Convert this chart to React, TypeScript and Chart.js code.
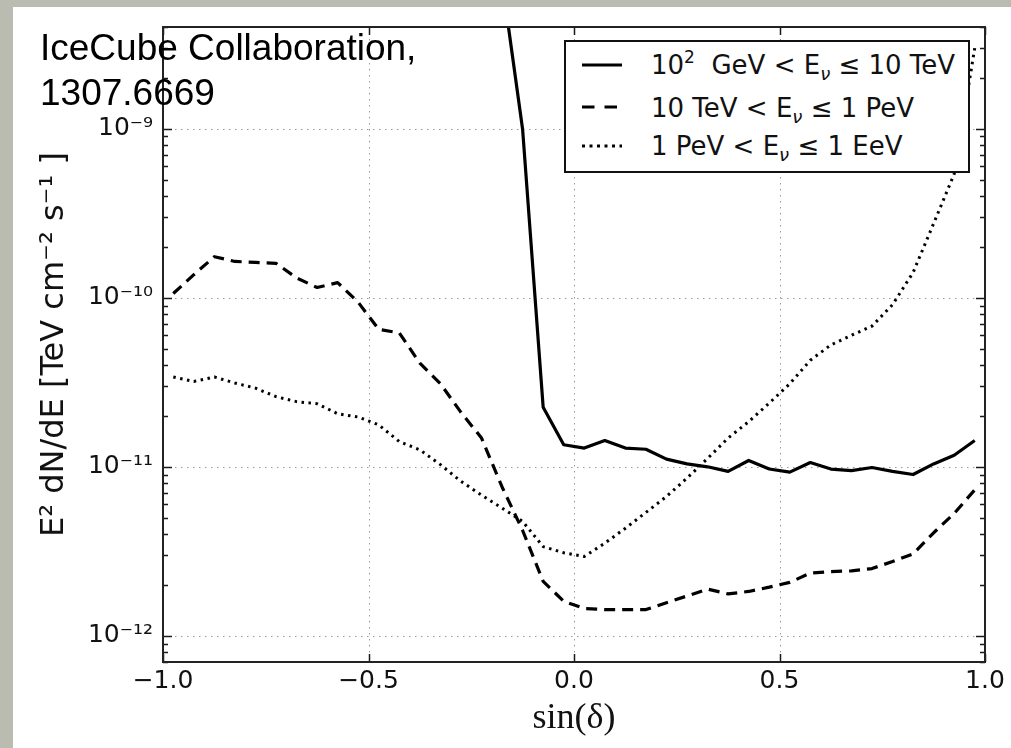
import React, { useEffect, useRef } from 'react';
import { Chart, registerables } from 'chart.js';

Chart.register(...registerables);

// sin(declination) bin centres
const SIN_DEC = [
  -0.975, -0.925, -0.875, -0.825, -0.775, -0.725, -0.675, -0.625, -0.575, -0.525,
  -0.475, -0.425, -0.375, -0.325, -0.275, -0.225, -0.175, -0.125, -0.075, -0.025,
  0.025, 0.075, 0.125, 0.175, 0.225, 0.275, 0.325, 0.375, 0.425, 0.475,
  0.525, 0.575, 0.625, 0.675, 0.725, 0.775, 0.825, 0.875, 0.925, 0.975,
];

// 10^2 GeV < E <= 10 TeV (solid)
const FLUX_LOW: (number | null)[] = [
  null, null, null, null, null, null, null, null, null, null,
  null, null, null, null, null, null, 7.5e-9, 9.9e-10, 2.25e-11, 1.35e-11,
  1.29e-11, 1.43e-11, 1.29e-11, 1.27e-11, 1.11e-11, 1.04e-11, 1.0e-11, 9.4e-12, 1.09e-11, 9.7e-12,
  9.3e-12, 1.06e-11, 9.7e-12, 9.5e-12, 9.9e-12, 9.4e-12, 9.0e-12, 1.04e-11, 1.17e-11, 1.43e-11,
];

// 10 TeV < E <= 1 PeV (dashed)
const FLUX_MID = [
  1.06e-10, 1.37e-10, 1.75e-10, 1.64e-10, 1.62e-10, 1.6e-10, 1.31e-10, 1.15e-10, 1.23e-10, 9.4e-11,
  6.5e-11, 6.2e-11, 4.1e-11, 3.1e-11, 2.1e-11, 1.48e-11, 7.6e-12, 4.2e-12, 2.1e-12, 1.6e-12,
  1.45e-12, 1.43e-12, 1.43e-12, 1.43e-12, 1.57e-12, 1.72e-12, 1.89e-12, 1.77e-12, 1.83e-12, 1.94e-12,
  2.07e-12, 2.35e-12, 2.4e-12, 2.42e-12, 2.5e-12, 2.75e-12, 3.05e-12, 4.07e-12, 5.3e-12, 7.3e-12,
];

// 1 PeV < E <= 1 EeV (dotted)
const FLUX_HIGH = [
  3.4e-11, 3.2e-11, 3.4e-11, 3.13e-11, 2.92e-11, 2.6e-11, 2.43e-11, 2.36e-11, 2.06e-11, 1.97e-11,
  1.77e-11, 1.41e-11, 1.26e-11, 1.03e-11, 8.2e-12, 6.8e-12, 5.7e-12, 4.75e-12, 3.37e-12, 3.1e-12,
  2.95e-12, 3.53e-12, 4.33e-12, 5.37e-12, 6.67e-12, 8.57e-12, 1.12e-11, 1.48e-11, 1.85e-11, 2.38e-11,
  3.1e-11, 4.27e-11, 5.26e-11, 6.0e-11, 6.8e-11, 9.1e-11, 1.41e-10, 2.75e-10, 5.4e-10, 3.0e-9,
];

const X_TICKS = [-1, -0.5, 0, 0.5, 1];
const X_TICK_LABELS = ['\u22121.0', '\u22120.5', '0.0', '0.5', '1.0'];
const Y_MAJOR = [1e-12, 1e-11, 1e-10, 1e-9];
const Y_TICK_LABELS = ['10\u207B\u00B9\u00B2', '10\u207B\u00B9\u00B9', '10\u207B\u00B9\u2070', '10\u207B\u2079'];
const Y_MIN = 7e-13;
const Y_MAX = 4e-9;

const X_TITLE = 'sin(\u03B4)';
const Y_TITLE = 'E\u00B2 dN/dE [TeV cm\u207B\u00B2 s\u207B\u00B9 ]';

const LEGEND_ROWS = [
  { pre: '10', sup: '2', mid: '  GeV < E', sub: '\u03BD', post: ' \u2264 10 TeV', dash: '' },
  { pre: '10 TeV < E', sup: '', mid: '', sub: '\u03BD', post: ' \u2264 1 PeV', dash: '12.5 10' },
  { pre: '1 PeV < E', sup: '', mid: '', sub: '\u03BD', post: ' \u2264 1 EeV', dash: '3 4.5' },
];
const LEGEND_BASELINES = [74, 116.7, 155];

const ANNOTATION = ['IceCube Collaboration,', '1307.6669'];

function yTickValues(): number[] {
  const out: number[] = [];
  for (let e = -13; e <= -9; e++) {
    for (let m = 1; m <= 9; m++) {
      const v = m * Math.pow(10, e);
      if (v >= Y_MIN * 0.999 && v <= Y_MAX * 1.001) out.push(v);
    }
  }
  return out;
}

function majorIndex(v: number): number {
  return Y_MAJOR.findIndex((t) => Math.abs(t - v) / t < 1e-6);
}

const framePlugin = {
  id: 'mplFrame',
  beforeDatasetsDraw(chart: any) {
    const { ctx, chartArea: a, scales } = chart;
    const x = scales.x;
    const y = scales.y;
    ctx.save();
    ctx.strokeStyle = '#999';
    ctx.lineWidth = 1;
    ctx.setLineDash([1.5, 4.5]);
    for (const v of X_TICKS) {
      const px = Math.round(x.getPixelForValue(v)) + 0.5;
      ctx.beginPath();
      ctx.moveTo(px, a.top);
      ctx.lineTo(px, a.bottom);
      ctx.stroke();
    }
    for (const v of Y_MAJOR) {
      const py = Math.round(y.getPixelForValue(v)) + 0.5;
      ctx.beginPath();
      ctx.moveTo(a.left, py);
      ctx.lineTo(a.right, py);
      ctx.stroke();
    }
    ctx.restore();
  },
  afterDatasetsDraw(chart: any) {
    const { ctx, chartArea: a, scales } = chart;
    const x = scales.x;
    const y = scales.y;
    ctx.save();
    ctx.strokeStyle = '#1a1a1a';
    ctx.lineWidth = 1.5;
    ctx.setLineDash([]);
    for (const t of y.ticks) {
      const py = Math.round(y.getPixelForValue(t.value)) + 0.5;
      const len = majorIndex(t.value) >= 0 ? 9 : 5;
      ctx.beginPath();
      ctx.moveTo(a.left, py);
      ctx.lineTo(a.left + len, py);
      ctx.moveTo(a.right, py);
      ctx.lineTo(a.right - len, py);
      ctx.stroke();
    }
    for (const v of X_TICKS) {
      const px = Math.round(x.getPixelForValue(v)) + 0.5;
      ctx.beginPath();
      ctx.moveTo(px, a.bottom);
      ctx.lineTo(px, a.bottom - 8);
      ctx.moveTo(px, a.top);
      ctx.lineTo(px, a.top + 8);
      ctx.stroke();
    }
    ctx.lineWidth = 2;
    ctx.strokeStyle = '#222';
    ctx.strokeRect(a.left, a.top, a.right - a.left, a.bottom - a.top);
    ctx.restore();
  },
};

export default function App() {
  const canvasRef = useRef<HTMLCanvasElement | null>(null);

  useEffect(() => {
    const canvas = canvasRef.current;
    if (!canvas) return;
    const mk = (vals: (number | null)[]) => SIN_DEC.map((xv, i) => ({ x: xv, y: vals[i] }));
    const common = {
      borderColor: '#000',
      borderWidth: 3.2,
      pointRadius: 0,
      pointHoverRadius: 0,
      tension: 0,
      fill: false,
      borderJoinStyle: 'round' as const,
      borderCapStyle: 'butt' as const,
    };
    const chart = new Chart(canvas, {
      type: 'line',
      data: {
        datasets: [
          { ...common, label: 'low', data: mk(FLUX_LOW) as any },
          { ...common, label: 'mid', data: mk(FLUX_MID) as any, borderDash: [11, 7] },
          { ...common, label: 'high', data: mk(FLUX_HIGH) as any, borderDash: [2.5, 4.5], borderWidth: 3 },
        ],
      },
      options: {
        animation: false,
        responsive: false,
        maintainAspectRatio: false,
        layout: { padding: { left: 13, right: 26, top: 27, bottom: 0 } },
        plugins: { legend: { display: false }, tooltip: { enabled: false } },
        scales: {
          x: {
            type: 'linear',
            min: -1,
            max: 1,
            afterFit: (s: any) => {
              s.height = 86;
            },
            afterBuildTicks: (s: any) => {
              s.ticks = X_TICKS.map((v) => ({ value: v }));
            },
            ticks: {
              autoSkip: false,
              maxRotation: 0,
              padding: 4,
              color: '#111',
              font: { family: 'DejaVu Sans', size: 25 },
              callback: (v: any) => {
                const i = X_TICKS.indexOf(Number(v));
                return i >= 0 ? X_TICK_LABELS[i] : '';
              },
            },
            grid: { display: false, drawTicks: false },
            border: { display: false },
            title: {
              display: true,
              text: X_TITLE,
              color: '#111',
              font: { family: 'Liberation Serif', size: 36 },
              padding: { top: 0, bottom: 8 },
            },
          },
          y: {
            type: 'logarithmic',
            min: Y_MIN,
            max: Y_MAX,
            afterFit: (s: any) => {
              s.width = 150;
            },
            afterBuildTicks: (s: any) => {
              s.ticks = yTickValues().map((v) => ({ value: v, major: majorIndex(v) >= 0 }));
            },
            ticks: {
              autoSkip: false,
              padding: 10,
              color: '#111',
              font: { family: 'DejaVu Sans', size: 25 },
              callback: (v: any) => {
                const i = majorIndex(Number(v));
                return i >= 0 ? Y_TICK_LABELS[i] : '';
              },
            },
            grid: { display: false, drawTicks: false },
            border: { display: false },
            title: {
              display: true,
              text: Y_TITLE,
              color: '#111',
              font: { family: 'DejaVu Sans', size: 32 },
              padding: { top: 22, bottom: 0 },
            },
          },
        },
      },
      plugins: [framePlugin],
    });
    return () => chart.destroy();
  }, []);

  return (
    <div
      style={{
        position: 'fixed',
        left: 0,
        top: 0,
        width: 1011,
        height: 748,
        overflow: 'hidden',
        background: '#babbb1',
      }}
    >
      <div style={{ position: 'absolute', left: 13, top: 7, right: 0, bottom: 0, background: '#fff' }} />
      <canvas
        ref={canvasRef}
        width={1011}
        height={748}
        style={{ position: 'absolute', left: 0, top: 0, width: 1011, height: 748 }}
      />
      <div
        style={{
          position: 'absolute',
          left: 564,
          top: 40,
          width: 406,
          height: 133,
          boxSizing: 'border-box',
          border: '2px solid #111',
          background: '#fff',
        }}
      />
      {LEGEND_ROWS.map((r, i) => (
        <React.Fragment key={i}>
          <svg
            width={42}
            height={12}
            style={{ position: 'absolute', left: 581, top: LEGEND_BASELINES[i] - 9.5 - 6 }}
          >
            <line
              x1={1}
              y1={6}
              x2={r.dash === '12.5 10' ? 36 : 41}
              y2={6}
              stroke="#000"
              strokeWidth={3.2}
              strokeDasharray={r.dash || undefined}
            />
          </svg>
          <div
            style={{
              position: 'absolute',
              left: 651,
              top: LEGEND_BASELINES[i] - 24.1,
              font: '26px "DejaVu Sans"',
              lineHeight: 'normal',
              whiteSpace: 'pre',
              color: '#111',
            }}
          >
            {r.pre}
            {r.sup ? (
              <span style={{ fontSize: 17, position: 'relative', top: -11 }}>{r.sup}</span>
            ) : null}
            {r.mid}
            <span style={{ fontSize: 18, fontStyle: 'italic', position: 'relative', top: 6 }}>{r.sub}</span>
            {r.post}
          </div>
        </React.Fragment>
      ))}
      <div
        style={{
          position: 'absolute',
          left: 40,
          top: 24.7,
          font: '37px "Liberation Sans"',
          lineHeight: '45px',
          color: '#000',
          whiteSpace: 'pre',
        }}
      >
        {ANNOTATION[0]}
        <br />
        {ANNOTATION[1]}
      </div>
    </div>
  );
}
